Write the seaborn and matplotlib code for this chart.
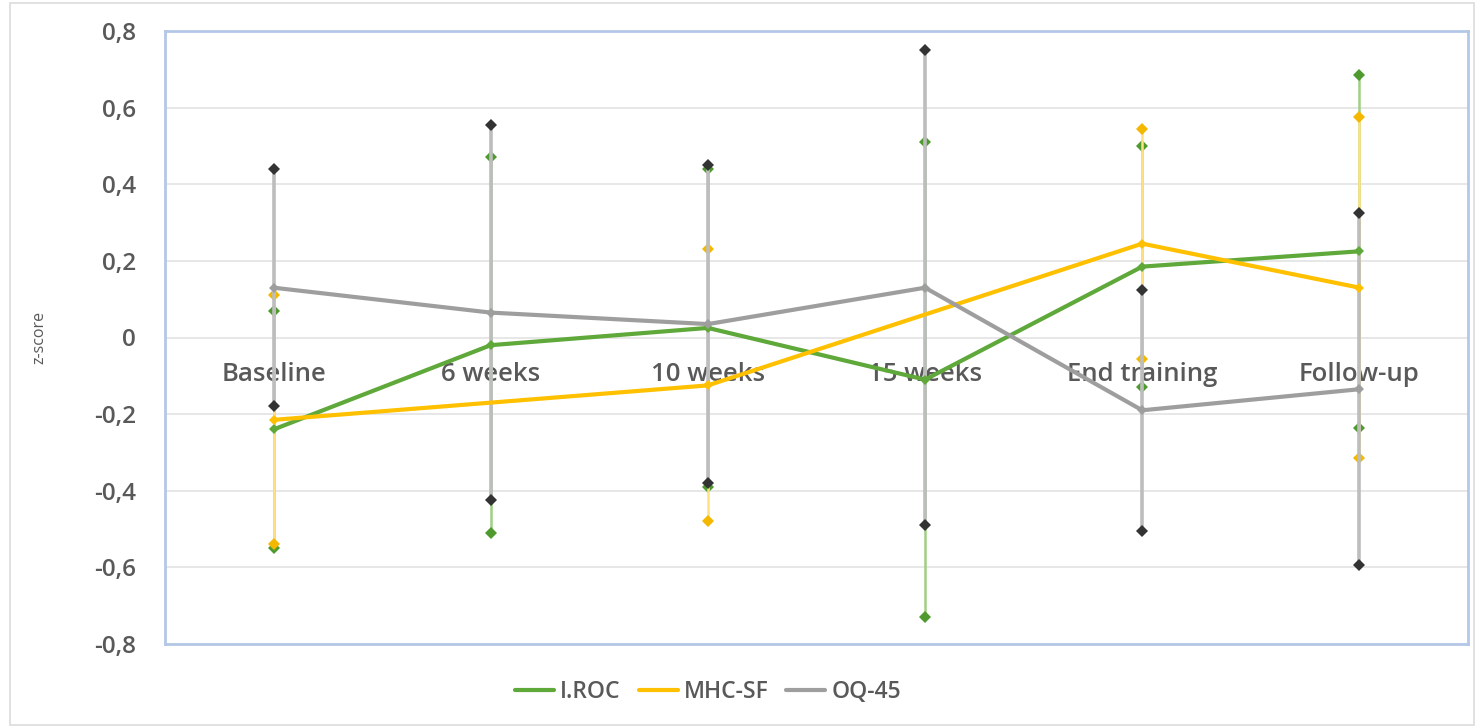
import numpy as np
import pandas as pd
import matplotlib
matplotlib.use("Agg")
import matplotlib.pyplot as plt
from matplotlib.lines import Line2D
from matplotlib.patches import Rectangle
from matplotlib.ticker import FuncFormatter
import seaborn as sns

# Time points and series (mean z-score and error half-width per time point)
categories = ["Baseline", "6 weeks", "10 weeks", "15 weeks", "End training", "Follow-up"]
series_names = ["I.ROC", "MHC-SF", "OQ-45"]

iroc_mean = [-0.24, -0.02, 0.025, -0.11, 0.185, 0.225]
iroc_err = [0.31, 0.49, 0.415, 0.62, 0.315, 0.46]

mhc_mean = [-0.215, np.nan, -0.125, np.nan, 0.245, 0.13]
mhc_err = [0.325, np.nan, 0.355, np.nan, 0.30, 0.445]

oq_mean = [0.13, 0.065, 0.035, 0.13, -0.19, -0.135]
oq_err = [0.31, 0.49, 0.415, 0.62, 0.315, 0.46]

y_ticks = [-0.8, -0.6, -0.4, -0.2, 0.0, 0.2, 0.4, 0.6, 0.8]

line_colors = {"I.ROC": "#5fa83a", "MHC-SF": "#ffc000", "OQ-45": "#9e9e9e"}
bar_colors = {"I.ROC": "#9fcf82", "MHC-SF": "#ffe184", "OQ-45": "#bdbdbd"}
end_colors = {"I.ROC": "#4f9a2e", "MHC-SF": "#f5b800", "OQ-45": "#333333"}

means = {"I.ROC": iroc_mean, "MHC-SF": mhc_mean, "OQ-45": oq_mean}
errs = {"I.ROC": iroc_err, "MHC-SF": mhc_err, "OQ-45": oq_err}

rows = []
for name in series_names:
    for i, cat in enumerate(categories):
        rows.append({"pos": i, "time": cat, "measure": name,
                     "z": means[name][i], "err": errs[name][i]})
df = pd.DataFrame(rows)

sns.set_theme(style="white")
plt.rcParams["font.family"] = ["Open Sans", "DejaVu Sans"]
text_color = "#595959"

fig = plt.figure(figsize=(14.77, 7.28), dpi=100)
W, H = 1477, 728
ax = fig.add_axes([165 / W, 1 - 644 / H, (1468 - 165) / W, (644 - 31) / H])

# Light outer chart border
fig.patches.append(Rectangle((10 / W, 3 / H), 1464 / W, 722 / H, transform=fig.transFigure,
                             fill=False, edgecolor="#dcdcdc", linewidth=1.2))

# Error bars: I.ROC at the back, OQ-45 in front
for k, name in enumerate(series_names):
    sub = df[(df["measure"] == name) & df["z"].notna()]
    ax.errorbar(sub["pos"], sub["z"], yerr=sub["err"], fmt="none",
                ecolor=bar_colors[name], elinewidth=2.6 if name == "OQ-45" else 1.8,
                capsize=0, zorder=2 + k)
    ends = pd.concat([sub["z"] + sub["err"], sub["z"] - sub["err"]])
    pos2 = pd.concat([sub["pos"], sub["pos"]])
    ax.plot(pos2, ends, linestyle="none", marker="D", markersize=6,
            color=end_colors[name], markeredgewidth=0, zorder=2.5 + k)

# Mean lines
sns.lineplot(data=df, x="pos", y="z", hue="measure", hue_order=series_names,
             palette=line_colors, linewidth=3, marker="D", markersize=5,
             markeredgewidth=0, estimator=None, sort=True, legend=False, ax=ax, zorder=6)

ax.set_xlim(-0.5, len(categories) - 0.5)
ax.set_ylim(-0.8, 0.8)
ax.set_yticks(y_ticks)


def comma_fmt(v, _):
    if abs(v) < 1e-9:
        return "0"
    return f"{v:.1f}".replace(".", ",")


ax.yaxis.set_major_formatter(FuncFormatter(comma_fmt))
ax.tick_params(axis="y", length=0, pad=21, labelsize=17.5, labelcolor=text_color)
for t in ax.get_yticklabels():
    t.set_fontweight("semibold")
ax.set_xticks([])
ax.set_xlabel("")
ax.set_ylabel("z-score", fontsize=11.5, color=text_color)
ax.yaxis.set_label_coords(-0.09, 0.5)
ax.grid(axis="y", color="#e3e3e3", linewidth=1.2)
ax.grid(axis="x", visible=False)
for sp in ax.spines.values():
    sp.set_visible(True)
    sp.set_color("#b4c7e7")
    sp.set_linewidth(2)

# Category labels sitting on the zero line
sec = ax.secondary_xaxis(0, transform=ax.transData)
sec.set_xticks(range(len(categories)))
sec.set_xticklabels(categories)
sec.tick_params(axis="x", length=0, pad=18, labelsize=18.5, labelcolor=text_color)
for t in sec.get_xticklabels():
    t.set_fontweight("semibold")
sec.spines["bottom"].set_visible(False)
sec.set_zorder(1)

handles = [Line2D([0], [0], color=line_colors[n], linewidth=3) for n in series_names]
fig.legend(handles, series_names, loc="center", bbox_to_anchor=(708 / W, 1 - 692 / H),
           ncol=3, frameon=False, handlelength=1.7, handletextpad=0.25,
           columnspacing=0.8, labelcolor=text_color,
           prop={"size": 16.5, "weight": "semibold"})

fig.savefig("out.png", dpi=100)
